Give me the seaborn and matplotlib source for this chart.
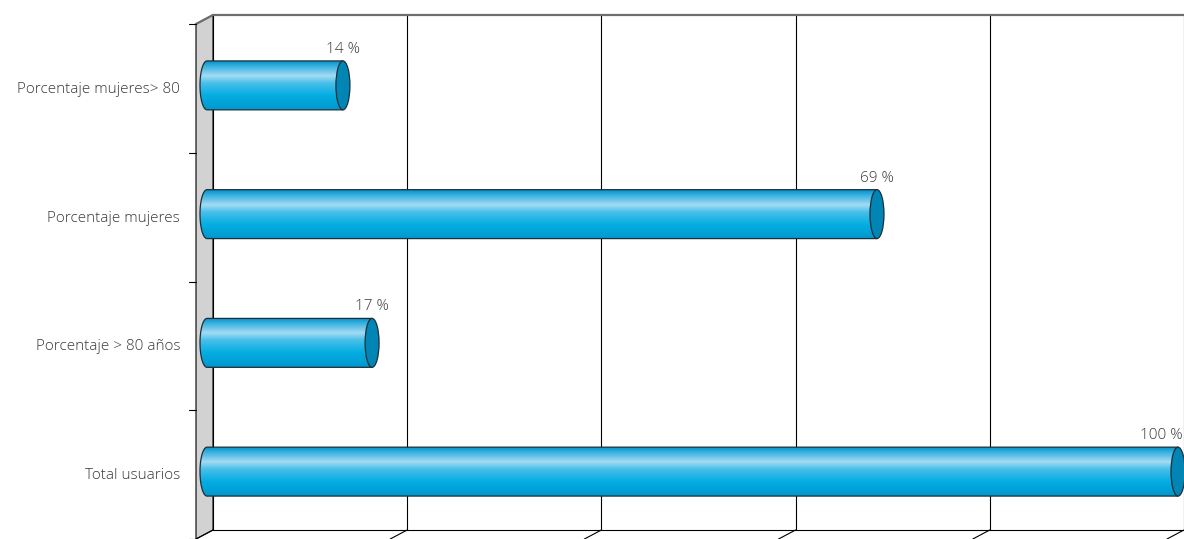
import numpy as np
import matplotlib
matplotlib.use("Agg")
import matplotlib.pyplot as plt
import seaborn as sns
from matplotlib.colors import LinearSegmentedColormap
from matplotlib.patches import PathPatch, Ellipse, Polygon
from matplotlib.path import Path
from matplotlib.lines import Line2D
from matplotlib.transforms import ScaledTranslation, blended_transform_factory

# Datos
categorias = ["Porcentaje mujeres> 80", "Porcentaje mujeres",
              "Porcentaje > 80 años", "Total usuarios"]
valores = [14, 69, 17, 100]
etiquetas = ["14 %", "69 %", "17 %", "100 %"]

sns.set_theme(style="white")
plt.rcParams["font.family"] = ["Open Sans", "DejaVu Sans"]

W, H = 1184, 539
fig = plt.figure(figsize=(W / 100, H / 100), dpi=100)
ax = fig.add_axes([213 / W, 9 / H, 971 / W, 515 / H])

sns.barplot(x=valores, y=categorias, orient="h", ax=ax, width=0.38,
            color="#00abe0")

ax.set_xlim(0, 100)
ax.set_ylim(3.5, -0.5)
ax.set_xticks([0, 20, 40, 60, 80, 100])
ax.set_yticks([])
ax.set_xticklabels([])
ax.set_xlabel("")
ax.set_ylabel("")
ax.tick_params(length=0)
ax.grid(axis="x", color="black", lw=0.8)
ax.set_axisbelow(True)
ax.patch.set_visible(False)
for s in ["left", "right"]:
    ax.spines[s].set_visible(False)
ax.spines["top"].set_color("#6e6e6e")
ax.spines["top"].set_linewidth(1.6)
ax.spines["bottom"].set_color("black")
ax.spines["bottom"].set_linewidth(0.8)


def px(x, y):
    return (x / W, 1 - y / H)


# pared izquierda 3D
pared = Polygon([px(196, 24), px(213, 15), px(213, 530), px(196, 539)],
                closed=True, transform=fig.transFigure, facecolor="#d2d2d2",
                edgecolor="black", lw=0.8, zorder=-1)
fig.add_artist(pared)
fig.add_artist(Line2D(*zip(px(196, 24), px(213, 15)), transform=fig.transFigure,
                      color="#6e6e6e", lw=1.6, zorder=-1))

# marcas del eje y (plano frontal)
for b in np.arange(-0.5, 3.6, 1.0):
    yb = ax.transData.transform((0, b))[1]
    yb = H - yb + 9
    fig.add_artist(Line2D(*zip(px(189, yb), px(196, yb)), transform=fig.transFigure,
                          color="black", lw=0.8))

# suelo: marcas inclinadas
for t in ax.get_xticks():
    xb = ax.transData.transform((t, 0))[0]
    fig.add_artist(Line2D(*zip(px(xb, 530), px(xb - 17, 539)), transform=fig.transFigure,
                          color="black", lw=0.8))

# barras cilíndricas
cmap = LinearSegmentedColormap.from_list("cil", [
    (0.0, "#0792c8"), (0.1, "#35b0e0"), (0.3, "#a4dbf3"),
    (0.45, "#48bfea"), (0.7, "#05ade2"), (1.0, "#0097cd")])
grad = np.linspace(0, 1, 256).reshape(-1, 1)
desp = ax.transData + ScaledTranslation(-6 / 100, -6 / 100, fig.dpi_scale_trans)
a = 7 / (971 / 100)  # semieje del casquete en unidades de datos

for p in list(ax.patches):
    p.set_visible(False)
    x0, x1 = p.get_x(), p.get_x() + p.get_width()
    h = p.get_height()
    yc = p.get_y() + h / 2
    t = np.linspace(np.pi / 2, 3 * np.pi / 2, 40)
    verts = [(x1, yc - h / 2)] + list(zip(x0 + a * np.cos(t), yc - h / 2 * np.sin(t)))
    verts += [(x1, yc + h / 2), (x1, yc - h / 2)]
    cuerpo = PathPatch(Path(verts, closed=True), transform=desp, facecolor="none",
                       edgecolor="#1d2f3b", lw=0.9, zorder=3, clip_on=False)
    ax.add_patch(cuerpo)
    im = ax.imshow(grad, cmap=cmap, aspect="auto", origin="upper",
                   extent=[x0 - a, x1, yc + h / 2, yc - h / 2],
                   transform=desp, zorder=2)
    im.set_clip_path(cuerpo)
    im.set_clip_box(fig.bbox)
    ax.add_patch(Ellipse((x1, yc), 2 * a, h, transform=desp, facecolor="#0085b4",
                         edgecolor="#1d2f3b", lw=0.9, zorder=4, clip_on=False))

ax.set_xlim(0, 100)
ax.set_ylim(3.5, -0.5)

# etiquetas de categorías
trans_cat = blended_transform_factory(ax.transAxes, ax.transData) + \
    ScaledTranslation(-33 / 100, -10 / 100, fig.dpi_scale_trans)
for i, c in enumerate(categorias):
    ax.text(0, i, c, transform=trans_cat, ha="right", va="center",
            fontsize=11, fontweight="light", color="#3a3a3a")

# etiquetas de valores
textos = []
for i, (v, e) in enumerate(zip(valores, etiquetas)):
    textos.append(ax.text(v, i - 0.19, e,
                          transform=desp + ScaledTranslation(0, 4 / 100, fig.dpi_scale_trans),
                          ha="center", va="bottom", fontsize=11, fontweight="light",
                          color="#3a3a3a"))

fig.canvas.draw()
r = fig.canvas.get_renderer()
for tx in textos:
    bb = tx.get_window_extent(r)
    if bb.x1 > W - 1:
        tx.set_ha("right")
        tx.set_transform(tx.get_transform() + ScaledTranslation((bb.width / 2 - (bb.x1 - W + 1)) / 100, 0, fig.dpi_scale_trans))

fig.savefig("out.png", dpi=100)
